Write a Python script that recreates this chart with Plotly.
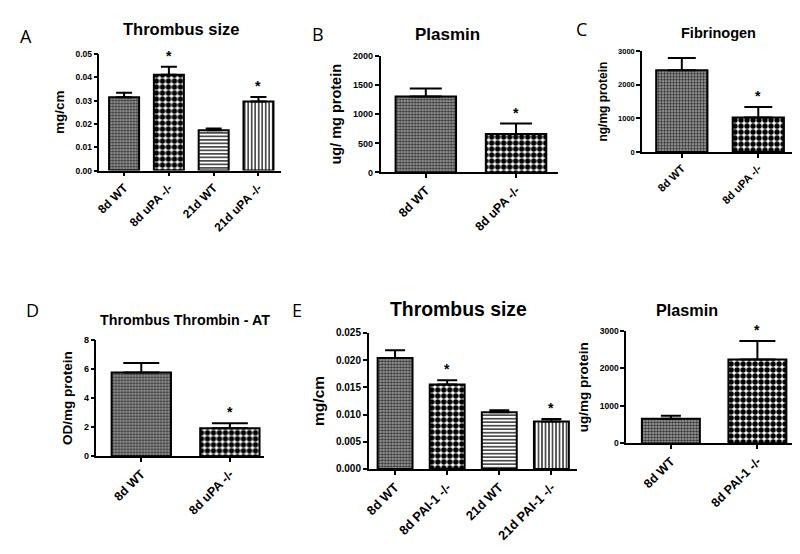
import plotly.graph_objects as go

# panel A - thrombus size, uPA
a_labels = ["8d WT", "8d uPA -/-", "21d WT", "21d uPA -/-"]
a_mean = [0.0315, 0.0411, 0.0173, 0.0297]
a_sem = [0.0019, 0.0035, 0.0008, 0.0019]
a_star = [False, True, False, True]

# panel B - plasmin, uPA
b_labels = ["8d WT", "8d uPA -/-"]
b_mean = [1304, 662]
b_sem = [139, 179]
b_star = [False, True]

# panel C - fibrinogen, uPA
c_labels = ["8d WT", "8d uPA -/-"]
c_mean = [2432, 1022]
c_sem = [365, 319]
c_star = [False, True]

# panel D - thrombin-AT, uPA
d_labels = ["8d WT", "8d uPA -/-"]
d_mean = [5.75, 1.93]
d_sem = [0.65, 0.34]
d_star = [False, True]

# panel E - thrombus size, PAI-1
e_labels = ["8d WT", "8d PAI-1 -/-", "21d WT", "21d PAI-1 -/-"]
e_mean = [0.0204, 0.0155, 0.0104, 0.0087]
e_sem = [0.0014, 0.0008, 0.0004, 0.0005]
e_star = [False, True, False, True]

# panel F - plasmin, PAI-1
f_labels = ["8d WT", "8d PAI-1 -/-"]
f_mean = [658, 2237]
f_sem = [80, 495]
f_star = [False, True]

FONT = "Liberation Sans"
W, H = 800, 554

PATTERNS = {
    "wt": dict(shape=".", size=3, solidity=0.5, fgcolor="#333333", bgcolor="#a8a8a8", fillmode="replace"),
    "ko": dict(shape=".", size=6, solidity=0.63, fgcolor="black", bgcolor="white", fillmode="replace"),
    "hl": dict(shape="-", size=3.5, solidity=0.35, fgcolor="black", bgcolor="white", fillmode="replace"),
    "vl": dict(shape="|", size=3.5, solidity=0.35, fgcolor="black", bgcolor="white", fillmode="replace"),
}


def px_x(v):
    return v / W


def px_y(v):
    return 1 - v / H


fig = go.Figure()


def panel(n, labels, means, sems, stars, kinds, caps, xdom, ydom, xrng, ymax, dtick, fmt,
          ytitle, tick_size, ytitle_size, xlab_size):
    xa = "x" if n == 1 else f"x{n}"
    ya = "y" if n == 1 else f"y{n}"
    for lab, m, s, k, c in zip(labels, means, sems, kinds, caps):
        fig.add_trace(go.Bar(
            x=[lab], y=[m], width=0.67, xaxis=xa, yaxis=ya, showlegend=False,
            marker=dict(color=PATTERNS[k]["bgcolor"], line=dict(color="black", width=2),
                        pattern=PATTERNS[k]),
            error_y=dict(type="data", symmetric=False, array=[s], arrayminus=[0],
                         color="black", thickness=2, width=c),
        ))
    for lab, m, s, st in zip(labels, means, sems, stars):
        if st:
            fig.add_annotation(x=lab, y=m + s, xref=xa, yref=ya, text="*", showarrow=False,
                               yanchor="bottom", yshift=1,
                               font=dict(family=FONT, size=14, color="black", weight="bold"))
    axis_font = dict(family=FONT, size=tick_size, color="black", weight="bold")
    key = "" if n == 1 else str(n)
    fig.update_layout(**{
        f"xaxis{key}": dict(
            domain=[px_x(xdom[0]), px_x(xdom[1])], anchor=ya, type="category",
            range=xrng, showline=True, linecolor="black", linewidth=1.5,
            ticks="outside", ticklen=4, tickwidth=1.5, tickcolor="black",
            tickangle=-45, showgrid=False, zeroline=False,
            tickfont=dict(family=FONT, size=xlab_size, color="black", weight="bold"),
        ),
        f"yaxis{key}": dict(
            domain=[px_y(ydom[1]), px_y(ydom[0])], anchor=xa, range=[0, ymax],
            dtick=dtick, tickformat=fmt, showline=True, linecolor="black", linewidth=1.5,
            ticks="outside", ticklen=4, tickwidth=1.5, tickcolor="black",
            showgrid=False, zeroline=False, tickfont=axis_font,
            title=dict(text=ytitle, standoff=8,
                       font=dict(family=FONT, size=ytitle_size, color="black", weight="bold")),
        ),
    })


panel(1, a_labels, a_mean, a_sem, a_star, ["wt", "ko", "hl", "vl"], [8, 8, 8, 8],
      (87, 270), (41, 160), [-0.55, 3.51], 0.05, 0.01, ".2f", "mg/cm", 8.5, 13.5, 12)
panel(2, b_labels, b_mean, b_sem, b_star, ["wt", "ko"], [16, 16],
      (370, 548), (43, 162), [-0.5, 1.46], 2000, 500, "d", "ug/ mg protein", 9, 14.5, 12.5)
panel(3, c_labels, c_mean, c_sem, c_star, ["wt", "ko"], [14, 14],
      (633, 790), (38, 141), [-0.52, 1.52], 3000, 1000, "d", "ng/mg protein", 7.5, 12, 11)
panel(4, d_labels, d_mean, d_sem, d_star, ["wt", "ko"], [18, 18],
      (84, 253), (333, 452), [-0.506, 1.39], 8, 2, "d", "OD/mg protein", 9, 13.5, 12.5)
panel(5, e_labels, e_mean, e_sem, e_star, ["wt", "ko", "hl", "vl"], [10, 10, 10, 10],
      (358, 568), (326, 465), [-0.505, 3.5], 0.025, 0.005, ".3f", "mg/cm", 10, 15.5, 13)
panel(6, f_labels, f_mean, f_sem, f_star, ["wt", "ko"], [10, 18],
      (617, 790), (324, 439), [-0.517, 1.47], 3000, 1000, "d", "ug/mg protein", 8.5, 13.5, 12.5)

titles = [
    ("Thrombus size", 169, 15, 16.5),
    ("Plasmin", 437, 21, 17),
    ("Fibrinogen", 710, 19, 14.5),
    ("Thrombus Thrombin - AT", 173, 313, 14.3),
    ("Thrombus size", 448, 302, 19.4),
    ("Plasmin", 678, 303, 16.2),
]
for text, x, y, size in titles:
    fig.add_annotation(x=px_x(x), y=px_y(y), xref="paper", yref="paper", text=text,
                       showarrow=False, xanchor="center", yanchor="middle",
                       font=dict(family=FONT, size=size, color="black", weight="bold"))

letters = [("A", 13, 22), ("B", 307, 20), ("C", 572, 15), ("D", 20, 303), ("E", 286, 303)]
for text, x, y in letters:
    fig.add_annotation(x=px_x(x), y=px_y(y), xref="paper", yref="paper", text=text,
                       showarrow=False, xanchor="center", yanchor="middle",
                       font=dict(family="Open Sans", size=18, color="black"))

fig.update_layout(
    width=W, height=H, autosize=False, barmode="overlay",
    margin=dict(l=0, r=0, t=0, b=0),
    paper_bgcolor="white", plot_bgcolor="white",
    font=dict(family=FONT, color="black"),
)

fig.write_html("out.html")
